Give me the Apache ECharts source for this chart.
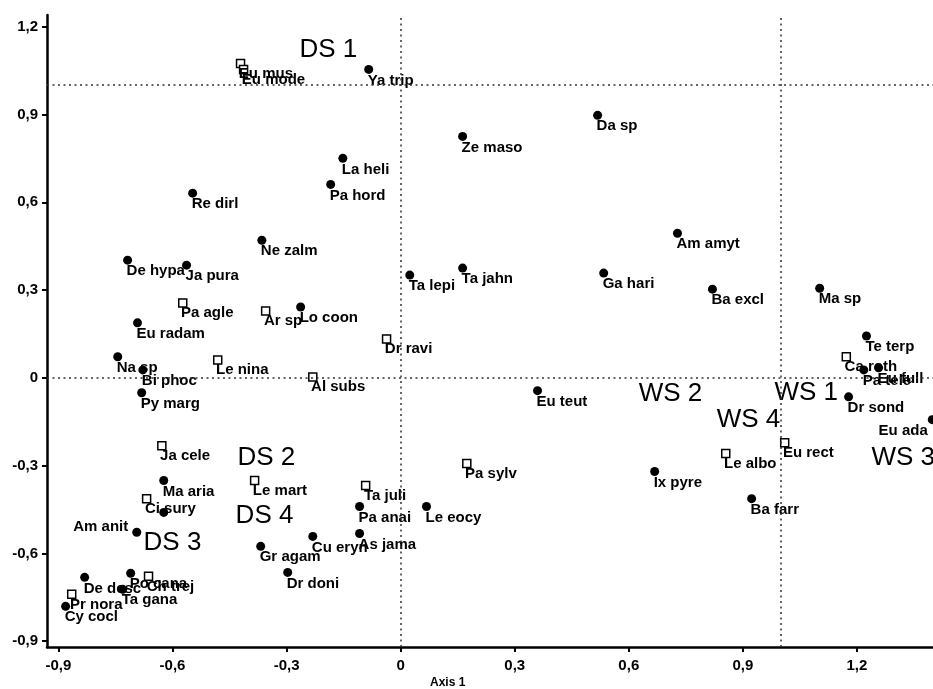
<!DOCTYPE html>
<html>
<head>
<meta charset="utf-8">
<title>Ordination: species and sites</title>
<script src="https://cdn.jsdelivr.net/npm/echarts@6/dist/echarts.min.js"></script>
<style>
  html, body { margin: 0; padding: 0; background: #fff; }
  #chart { width: 933px; height: 689px; }
</style>
</head>
<body>
<div id="chart"></div>
<script>
// Species drawn as filled circles
const circleNames = ['Ya trip', 'Da sp', 'Ze maso', 'La heli', 'Pa hord', 'Re dirl', 'Ne zalm', 'Am amyt',
  'De hypa', 'Ja pura', 'Ta lepi', 'Ta jahn', 'Ga hari', 'Ba excl', 'Ma sp', 'Lo coon', 'Eu radam',
  'Na sp', 'Bi phoc', 'Py marg', 'Eu teut', 'Te terp', 'Pa tele', 'Eu full', 'Dr sond', 'Eu ada',
  'Ix pyre', 'Ba farr', 'Ma aria', '', 'Am anit', 'Gr agam', 'Dr doni', 'Cu eryn', 'As jama',
  'Pa anai', 'Le eocy', 'De desc', 'Po cana', 'Ta gana', 'Cy cocl'];
const circleX = [-0.084, 0.518, 0.163, -0.152, -0.184, -0.547, -0.365, 0.728,
  -0.718, -0.563, 0.024, 0.163, 0.534, 0.820, 1.102, -0.263, -0.692,
  -0.744, -0.678, -0.681, 0.360, 1.225, 1.218, 1.257, 1.178, 1.398,
  0.668, 0.923, -0.623, -0.623, -0.694, -0.368, -0.297, -0.231, -0.108,
  -0.108, 0.068, -0.831, -0.710, -0.731, -0.881];
const circleY = [1.054, 0.897, 0.825, 0.750, 0.661, 0.631, 0.470, 0.494,
  0.402, 0.385, 0.351, 0.375, 0.358, 0.303, 0.306, 0.242, 0.188,
  0.072, 0.027, -0.051, -0.044, 0.143, 0.027, 0.034, -0.065, -0.143,
  -0.320, -0.413, -0.351, -0.460, -0.528, -0.576, -0.665, -0.542, -0.532,
  -0.440, -0.440, -0.682, -0.668, -0.723, -0.781];

// Species drawn as open squares
const squareNames = ['Eu mus', 'Eu mode', 'Pa agle', 'Ar sp', 'Le nina', 'Al subs', 'Dr ravi', 'Ja cele',
  'Ci sury', 'Le mart', 'Ta juli', 'Pa sylv', 'Le albo', 'Eu rect', 'Ca roth', 'Ch trej', 'Pr nora'];
const squareX = [-0.421, -0.413, -0.573, -0.355, -0.481, -0.231, -0.037, -0.628,
  -0.668, -0.384, -0.092, 0.174, 0.855, 1.010, 1.172, -0.663, -0.865];
const squareY = [1.074, 1.054, 0.256, 0.228, 0.061, 0.003, 0.133, -0.232,
  -0.413, -0.351, -0.368, -0.293, -0.259, -0.222, 0.072, -0.678, -0.740];

// Site labels (dry and wet season)
const siteNames = ['DS 1', 'DS 2', 'DS 4', 'DS 3', 'WS 2', 'WS 1', 'WS 4', 'WS 3'];
const siteX = [-0.266, -0.429, -0.434, -0.676, 0.626, 0.983, 0.831, 1.238];
const siteY = [1.120, -0.273, -0.470, -0.563, -0.055, -0.051, -0.143, -0.273];

// Axis ticks and reference lines
const tickValues = [-0.9, -0.6, -0.3, 0, 0.3, 0.6, 0.9, 1.2];
const refX = [0, 1];
const refY = [0, 1];

const FONT = '"Liberation Sans", Arial, sans-serif';

// Labels that sit somewhere other than below-right of their marker
const labelOverrides = {
  'Am anit': { position: 'left', distance: 4, offset: [0, -5], align: 'right', verticalAlign: 'middle' },
  'Eu ada': { position: [0, 8], align: 'right', verticalAlign: 'top' }
};

function points(names, xs, ys) {
  return names.map((n, i) => {
    const item = { name: n, value: [xs[i], ys[i]] };
    if (labelOverrides[n]) item.label = labelOverrides[n];
    return item;
  });
}

function fmtTick(v) {
  return String(Math.round(v * 10) / 10).replace('.', ',');
}

const speciesLabel = {
  show: true,
  formatter: '{b}',
  align: 'left',
  verticalAlign: 'top',
  fontFamily: FONT,
  fontSize: 15,
  fontWeight: 'bold',
  lineHeight: 15,
  color: '#000'
};

const chart = echarts.init(document.getElementById('chart'), null, { renderer: 'canvas' });

chart.setOption({
  animation: false,
  backgroundColor: '#fff',
  grid: { left: 47, right: 0, top: 15, bottom: 42 },
  xAxis: {
    type: 'value',
    min: -0.93,
    max: 1.4,
    splitLine: { show: false },
    axisLine: { onZero: false, lineStyle: { color: '#000', width: 2.5 } },
    axisTick: { customValues: tickValues, length: 5, lineStyle: { color: '#000', width: 2 } },
    axisLabel: {
      customValues: tickValues, formatter: fmtTick, margin: 11,
      fontFamily: FONT, fontSize: 15, fontWeight: 'bold', color: '#000'
    }
  },
  yAxis: {
    type: 'value',
    min: -0.92,
    max: 1.24,
    splitLine: { show: false },
    axisLine: { onZero: false, lineStyle: { color: '#000', width: 2.5 } },
    axisTick: { customValues: tickValues, length: 5, lineStyle: { color: '#000', width: 2 } },
    axisLabel: {
      customValues: tickValues, formatter: fmtTick, margin: 9,
      fontFamily: FONT, fontSize: 15, fontWeight: 'bold', color: '#000'
    }
  },
  graphic: [
    {
      type: 'text', left: 430, top: 677,
      style: { text: 'Axis 1', font: 'bold 12px ' + FONT, fill: '#000' }
    },
    {
      type: 'text', x: 3, y: 241, rotation: Math.PI / 2,
      style: { text: 'Axis 2', font: 'bold 12px ' + FONT, fill: '#000', align: 'center', verticalAlign: 'bottom' }
    }
  ],
  series: [
    {
      name: 'sites',
      type: 'scatter',
      z: 1,
      symbolSize: 0,
      itemStyle: { color: 'transparent', opacity: 1 },
      data: points(siteNames, siteX, siteY),
      label: {
        show: true, formatter: '{b}', position: 'right', distance: 0,
        align: 'left', verticalAlign: 'middle',
        fontFamily: FONT, fontSize: 26, color: '#000'
      },
      markLine: {
        silent: true,
        symbol: ['none', 'none'],
        label: { show: false },
        lineStyle: { type: [2, 3.5], color: '#333', width: 1.5, opacity: 1 },
        data: refX.map(v => ({ xAxis: v })).concat(refY.map(v => ({ yAxis: v })))
      }
    },
    {
      name: 'circles',
      type: 'scatter',
      z: 3,
      symbol: 'circle',
      symbolSize: 9,
      itemStyle: { color: '#000', opacity: 1 },
      data: points(circleNames, circleX, circleY),
      label: Object.assign({ position: [3.5, 8] }, speciesLabel)
    },
    {
      name: 'squares',
      type: 'scatter',
      z: 4,
      symbol: 'rect',
      symbolSize: 8,
      itemStyle: { color: '#fff', borderColor: '#000', borderWidth: 1.5, opacity: 1 },
      data: points(squareNames, squareX, squareY),
      label: Object.assign({ position: [3, 7.5] }, speciesLabel)
    }
  ]
});
</script>
</body>
</html>
